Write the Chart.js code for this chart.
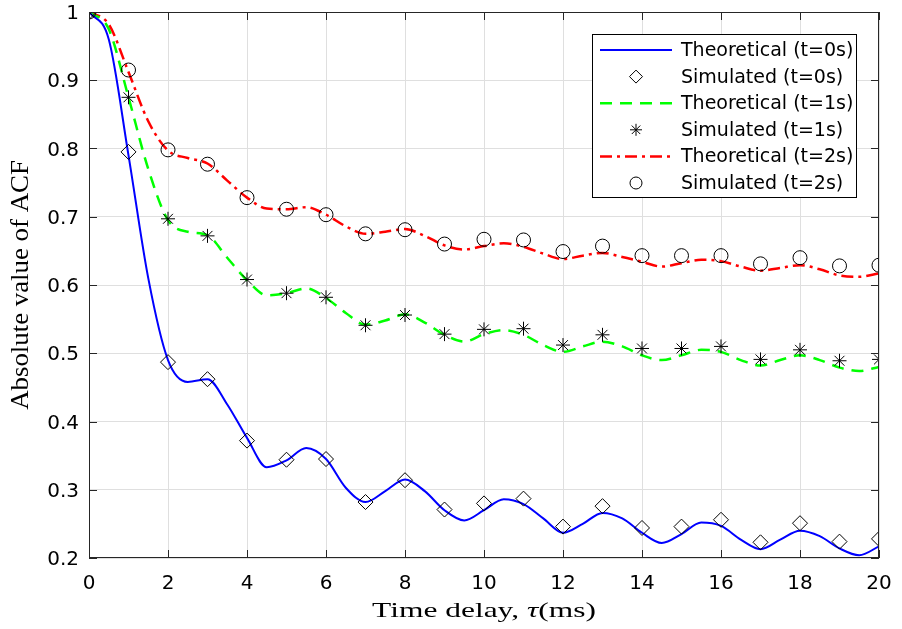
<!DOCTYPE html>
<html>
<head>
<meta charset="utf-8">
<script src="https://cdn.jsdelivr.net/npm/chart.js@4.4.1/dist/chart.umd.min.js"></script>
<style>
  html, body { margin: 0; padding: 0; background: #fff; }
  #wrap { position: relative; width: 902px; height: 629px; }
</style>
</head>
<body>
<div id="wrap"><canvas id="acfChart"></canvas></div>
<script>
// Dados (ACF x atraso)
const theoX = [0, 0.5, 1, 1.5, 2, 2.5, 3, 3.5, 4, 4.5, 5, 5.5, 6, 6.5, 7, 7.5, 8, 8.5, 9, 9.5, 10,
               10.5, 11, 11.5, 12, 12.5, 13, 13.5, 14, 14.5, 15, 15.5, 16, 16.5, 17, 17.5, 18, 18.5, 19, 19.5, 20];
const theo0 = [1, 0.96, 0.79, 0.61, 0.49, 0.458, 0.462, 0.425, 0.376, 0.333, 0.343, 0.361, 0.345, 0.303, 0.282, 0.298, 0.315, 0.298, 0.27, 0.255, 0.27,
               0.286, 0.279, 0.258, 0.237, 0.25, 0.266, 0.258, 0.237, 0.222, 0.235, 0.252, 0.247, 0.227, 0.213, 0.227, 0.24, 0.232, 0.214, 0.204, 0.217];
const theo1 = [1, 0.975, 0.875, 0.77, 0.695, 0.678, 0.673, 0.64, 0.607, 0.585, 0.588, 0.595, 0.581, 0.559, 0.542, 0.548, 0.557, 0.545, 0.527, 0.517, 0.528,
               0.534, 0.527, 0.512, 0.502, 0.51, 0.517, 0.51, 0.497, 0.49, 0.497, 0.505, 0.502, 0.49, 0.482, 0.49, 0.497, 0.49, 0.479, 0.474, 0.48];
const theo2 = [1, 0.982, 0.912, 0.84, 0.797, 0.786, 0.778, 0.753, 0.728, 0.712, 0.711, 0.714, 0.703, 0.686, 0.675, 0.678, 0.682, 0.672, 0.658, 0.652, 0.657,
               0.661, 0.656, 0.646, 0.638, 0.643, 0.647, 0.641, 0.634, 0.627, 0.632, 0.637, 0.635, 0.627, 0.621, 0.625, 0.629, 0.623, 0.614, 0.612, 0.617];

const simX = [0, 1, 2, 3, 4, 5, 6, 7, 8, 9, 10, 11, 12, 13, 14, 15, 16, 17, 18, 19, 20];
const sim0 = [1, 0.795, 0.487, 0.462, 0.372, 0.344, 0.345, 0.282, 0.314, 0.271, 0.28, 0.287, 0.246, 0.276, 0.244, 0.246, 0.256, 0.223, 0.251, 0.224, 0.228];
const sim1 = [1, 0.875, 0.697, 0.672, 0.608, 0.588, 0.582, 0.541, 0.556, 0.528, 0.535, 0.536, 0.512, 0.527, 0.507, 0.507, 0.51, 0.491, 0.505, 0.489, 0.491];
const sim2 = [1, 0.915, 0.798, 0.777, 0.728, 0.711, 0.703, 0.675, 0.681, 0.66, 0.667, 0.666, 0.649, 0.657, 0.643, 0.643, 0.643, 0.631, 0.64, 0.628, 0.629];

const xTicks = [0, 2, 4, 6, 8, 10, 12, 14, 16, 18, 20];
const xTickLabels = ['0', '2', '4', '6', '8', '10', '12', '14', '16', '18', '20'];
const yTicks = [0.2, 0.3, 0.4, 0.5, 0.6, 0.7, 0.8, 0.9, 1];
const yTickLabels = ['0.2', '0.3', '0.4', '0.5', '0.6', '0.7', '0.8', '0.9', '1'];

const legendLabels = ['Theoretical (t=0s)', 'Simulated (t=0s)', 'Theoretical (t=1s)',
                      'Simulated (t=1s)', 'Theoretical (t=2s)', 'Simulated (t=2s)'];

const CINZA_EIXO = '#262626';

function pares(xs, ys) {
    return xs.map((x, i) => ({ x: x, y: ys[i] }));
}

function linhaTeorica(label, ys, cor, dash, largura) {
    return {
        label: label,
        data: pares(theoX, ys),
        showLine: true,
        borderColor: cor,
        borderWidth: largura,
        borderDash: dash,
        pointRadius: 0,
        cubicInterpolationMode: 'monotone',
        order: 2
    };
}

function pontosSimulados(label, ys, estilo, raio) {
    return {
        label: label,
        data: pares(simX, ys),
        showLine: false,
        pointStyle: estilo,
        pointRadius: raio,
        pointBorderColor: '#000',
        pointBackgroundColor: 'rgba(0,0,0,0)',
        pointBorderWidth: 1,
        borderColor: '#000',
        order: 1
    };
}

// Moldura, ticks internos, títulos e legenda (estilo Matlab)
const estiloMatlab = {
    id: 'estiloMatlab',
    afterDatasetsDraw(chart) {
        const ctx = chart.ctx;
        const a = chart.chartArea;
        const sx = chart.scales.x, sy = chart.scales.y;
        ctx.save();
        ctx.strokeStyle = CINZA_EIXO;
        ctx.lineWidth = 1;
        ctx.strokeRect(a.left + 0.5, a.top + 0.5, a.right - a.left - 1, a.bottom - a.top - 1);
        ctx.beginPath();
        const tl = 8;
        xTicks.forEach(v => {
            const px = Math.round(sx.getPixelForValue(v)) + 0.5;
            ctx.moveTo(px, a.bottom); ctx.lineTo(px, a.bottom - tl);
            ctx.moveTo(px, a.top); ctx.lineTo(px, a.top + tl);
        });
        yTicks.forEach(v => {
            const py = Math.round(sy.getPixelForValue(v)) + 0.5;
            ctx.moveTo(a.left, py); ctx.lineTo(a.left + tl, py);
            ctx.moveTo(a.right, py); ctx.lineTo(a.right - tl, py);
        });
        ctx.stroke();

        // legenda
        const lw = 264, lh = 163;
        const lx = a.right - 23 - lw, ly = a.top + 22;
        ctx.fillStyle = '#fff';
        ctx.fillRect(lx, ly, lw, lh);
        ctx.strokeStyle = '#000';
        ctx.strokeRect(lx + 0.5, ly + 0.5, lw, lh);
        ctx.font = '19px "DejaVu Sans"';
        ctx.textBaseline = 'middle';
        ctx.textAlign = 'left';
        chart.data.datasets.forEach((ds, i) => {
            const cy = ly + 16 + i * 26.6;
            if (ds.showLine) {
                ctx.save();
                ctx.strokeStyle = ds.borderColor;
                ctx.lineWidth = ds.borderWidth;
                ctx.setLineDash(ds.borderDash || []);
                ctx.beginPath();
                ctx.moveTo(lx + 8, cy); ctx.lineTo(lx + 80, cy);
                ctx.stroke();
                ctx.restore();
            } else {
                ctx.save();
                ctx.strokeStyle = '#000';
                ctx.fillStyle = 'rgba(0,0,0,0)';
                ctx.lineWidth = 1;
                Chart.helpers.drawPoint(ctx, { pointStyle: ds.pointStyle, radius: ds.pointRadius - 1, rotation: 0, borderWidth: 1 }, lx + 44, cy);
                ctx.restore();
            }
            ctx.fillStyle = '#000';
            ctx.fillText(legendLabels[i], lx + 89, cy + 1);
        });

        // título do eixo x
        ctx.fillStyle = '#000';
        const partes = [['Time delay, ', false], ['\u03C4', true], ['(ms)', false]];
        const escX = 1.43;
        let total = 0;
        partes.forEach(p => {
            ctx.font = (p[1] ? 'italic ' : '') + '22px "Liberation Serif"';
            total += ctx.measureText(p[0]).width;
        });
        ctx.save();
        ctx.translate((a.left + a.right) / 2, 617);
        ctx.scale(escX, 1);
        let cx = -total / 2;
        ctx.textAlign = 'left';
        ctx.textBaseline = 'alphabetic';
        partes.forEach(p => {
            ctx.font = (p[1] ? 'italic ' : '') + '22px "Liberation Serif"';
            ctx.fillText(p[0], cx, 0);
            cx += ctx.measureText(p[0]).width;
        });
        ctx.restore();

        // título do eixo y
        ctx.save();
        ctx.translate(28, (a.top + a.bottom) / 2);
        ctx.rotate(-Math.PI / 2);
        ctx.scale(1.22, 1.17);
        ctx.font = '22px "Liberation Serif"';
        ctx.textAlign = 'center';
        ctx.textBaseline = 'alphabetic';
        ctx.fillText('Absolute value of ACF', 0, 0);
        ctx.restore();
        ctx.restore();
    }
};

Chart.defaults.font.family = '"DejaVu Sans"';
Chart.defaults.color = CINZA_EIXO;

const ctx = document.getElementById('acfChart').getContext('2d');
new Chart(ctx, {
    type: 'scatter',
    data: {
        datasets: [
            linhaTeorica(legendLabels[0], theo0, '#0000ff', [], 2),
            pontosSimulados(legendLabels[1], sim0, 'rectRot', 7.5),
            linhaTeorica(legendLabels[2], theo1, '#00ff00', [12, 8], 2.5),
            pontosSimulados(legendLabels[3], sim1, 'star', 7),
            linhaTeorica(legendLabels[4], theo2, '#ff0000', [12, 5, 3, 5], 2.5),
            pontosSimulados(legendLabels[5], sim2, 'circle', 7)
        ]
    },
    options: {
        responsive: true,
        maintainAspectRatio: false,
        animation: false,
        layout: { padding: { left: 0, right: 23, top: 12, bottom: 0 } },
        plugins: {
            legend: { display: false },
            tooltip: { enabled: false }
        },
        scales: {
            x: {
                type: 'linear',
                min: 0,
                max: 20,
                afterBuildTicks: s => { s.ticks = xTicks.map(v => ({ value: v })); },
                afterFit: s => { s.height = 71; s.paddingLeft = 0; s.paddingRight = 0; },
                grid: { color: '#dfdfdf', drawTicks: false },
                border: { display: false },
                ticks: {
                    padding: 14,
                    maxRotation: 0,
                    font: { size: 20 },
                    color: '#000',
                    callback: (v) => xTickLabels[xTicks.indexOf(v)]
                }
            },
            y: {
                type: 'linear',
                min: 0.2,
                max: 1,
                afterBuildTicks: s => { s.ticks = yTicks.map(v => ({ value: v })); },
                afterFit: s => { s.width = 89; s.paddingTop = 0; s.paddingBottom = 0; },
                grid: { color: '#dfdfdf', drawTicks: false },
                border: { display: false },
                ticks: {
                    padding: 10,
                    labelOffset: 2,
                    font: { size: 20 },
                    color: '#000',
                    callback: (v) => yTickLabels[yTicks.indexOf(v)]
                }
            }
        }
    },
    plugins: [estiloMatlab]
});
</script>
</body>
</html>
